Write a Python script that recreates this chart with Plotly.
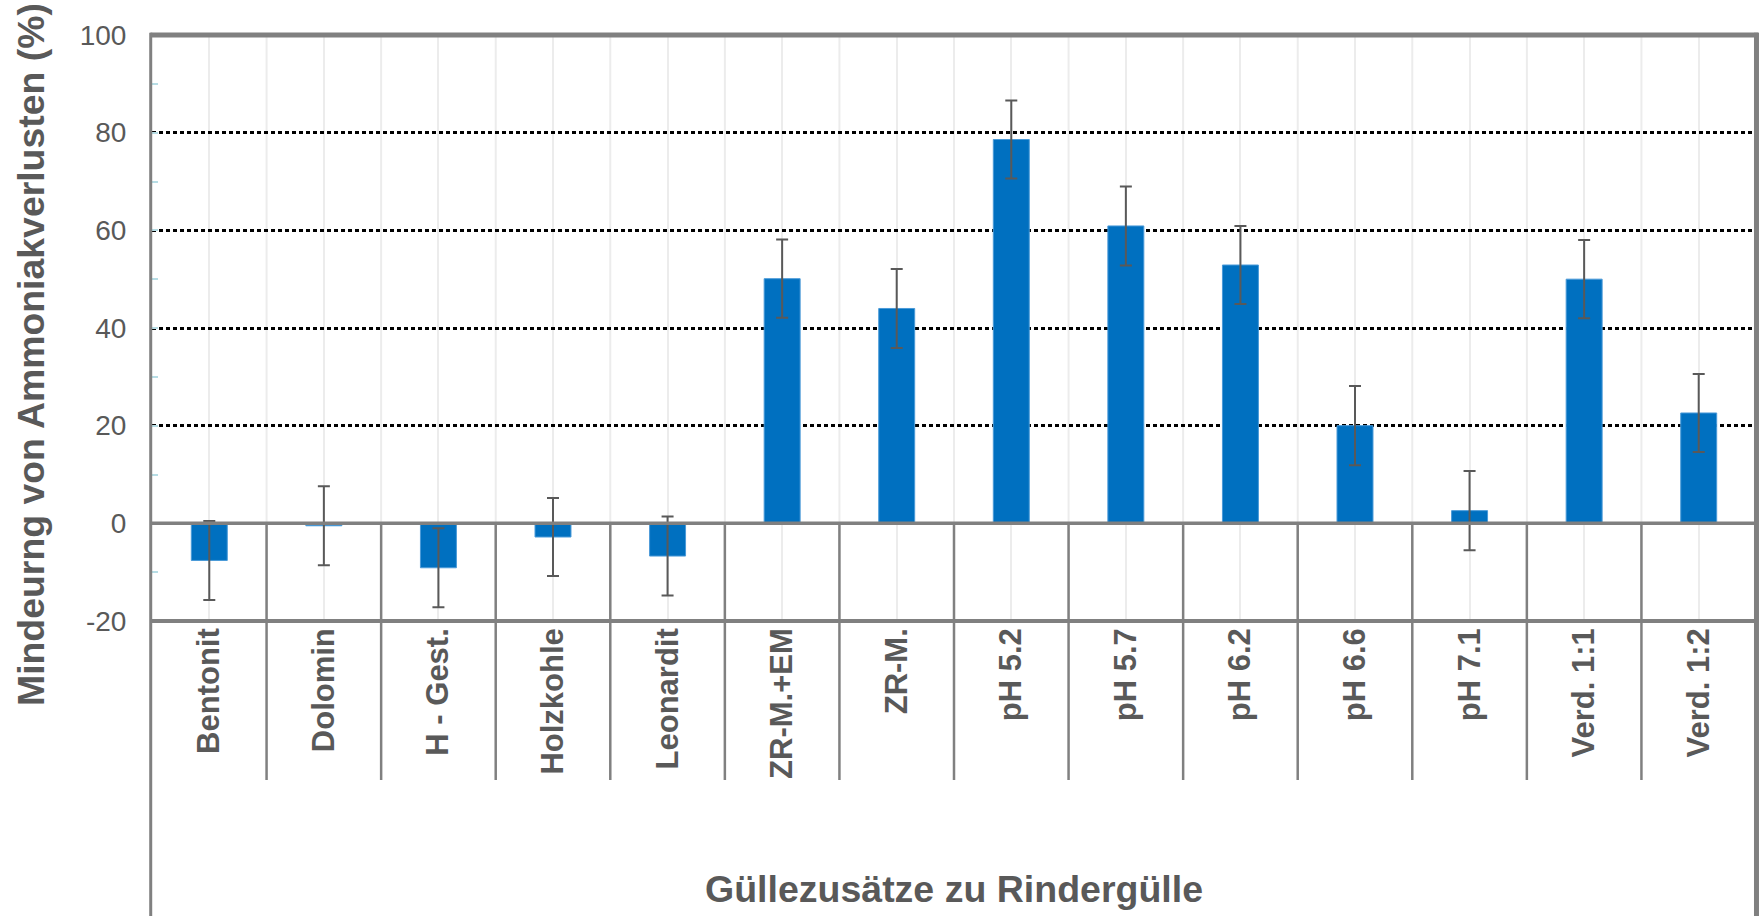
import plotly.graph_objects as go

categories = ["Bentonit", "Dolomin", "H - Gest.", "Holzkohle", "Leonardit",
              "ZR-M.+EM", "ZR-M.", "pH 5.2", "pH 5.7", "pH 6.2", "pH 6.6",
              "pH 7.1", "Verd. 1:1", "Verd. 1:2"]
values = [-7.6, -0.5, -9.1, -2.8, -6.7, 50.1, 44.0, 78.6, 60.9, 52.9, 20.0, 2.6, 50.0, 22.6]
errors = [8.1, 8.1, 8.1, 8.0, 8.1, 8.0, 8.1, 8.0, 8.1, 8.0, 8.1, 8.1, 8.0, 8.0]
y_ticks = [-20, 0, 20, 40, 60, 80, 100]
y_tick_labels = ["-20", "0", "20", "40", "60", "80", "100"]

y_title = "Mindeurng von Ammoniakverlusten (%)"
x_title = "Güllezusätze zu Rindergülle"

W, H = 1760, 916
ML, MR, MT, MB = 152, 4, 35, 295
ymin, ymax = -20, 100
plot_h = H - MT - MB
paper_bottom = -MB / plot_h
zero_paper = (0 - ymin) / (ymax - ymin)
div_bottom = (MT + plot_h - 780) / plot_h  # divider lines end (pixel row 780)

TXT = "#595959"
GRAY = "#808080"
FONT = "Liberation Sans, Arial, sans-serif"

fig = go.Figure(go.Bar(
    x=categories, y=values,
    marker=dict(color="#0070C0", line=dict(color="#4a9ad8", width=1)),
    error_y=dict(type="data", array=errors, visible=True,
                 color=TXT, thickness=2, width=6),
))

shapes = []
n = len(categories)
# faint vertical gridlines at category boundaries
for k in range(1, n):
    shapes.append(dict(type="line", xref="x", yref="paper", x0=k - 0.5, x1=k - 0.5,
                       y0=0, y1=1, line=dict(color="#ececec", width=2), layer="below"))
# dark category dividers from zero line down into label table
for k in range(1, n):
    shapes.append(dict(type="line", xref="x", yref="paper", x0=k - 0.5, x1=k - 0.5,
                       y0=zero_paper, y1=div_bottom, line=dict(color=GRAY, width=2.5), layer="above"))
# zero line
shapes.append(dict(type="line", xref="paper", yref="y", x0=0, x1=1, y0=0, y1=0,
                   line=dict(color=GRAY, width=3.5), layer="above"))
# frame: top, bottom, right, left
shapes.append(dict(type="line", xref="paper", yref="paper", x0=-0.001, x1=1.0015, y0=1, y1=1,
                   line=dict(color=GRAY, width=5), layer="above"))
shapes.append(dict(type="line", xref="paper", yref="paper", x0=-0.001, x1=1.0015, y0=0, y1=0,
                   line=dict(color=GRAY, width=4), layer="above"))
shapes.append(dict(type="line", xref="paper", yref="paper", x0=1.0003, x1=1.0003, y0=1.004, y1=paper_bottom - 0.05,
                   line=dict(color=GRAY, width=5), layer="above"))
shapes.append(dict(type="line", xref="paper", yref="paper", x0=-0.0008, x1=-0.0008, y0=1.004, y1=paper_bottom - 0.05,
                   line=dict(color=GRAY, width=3), layer="above"))

fig.update_layout(
    width=W, height=H,
    margin=dict(l=ML, r=MR, t=MT, b=MB, autoexpand=False),
    paper_bgcolor="white", plot_bgcolor="white",
    bargap=0.686,
    showlegend=False,
    font=dict(family=FONT, color=TXT),
    shapes=shapes,
    xaxis=dict(
        type="category",
        showgrid=True, gridcolor="#ececec", gridwidth=2,
        showline=False, zeroline=False, ticks="",
        tickangle=-90,
        tickfont=dict(family=FONT, size=31, color=TXT, weight="bold"),
        ticklabelstandoff=0,
        automargin=False,
    ),
    yaxis=dict(
        range=[ymin, ymax],
        tickvals=y_ticks, ticktext=y_tick_labels,
        showgrid=True, gridcolor="black", gridwidth=3, griddash="4px,3px",
        zeroline=False,
        showline=True, linecolor="#b7dde5", linewidth=2,
        ticks="inside", ticklen=6, tickcolor="#b7dde5", tickwidth=2,
        minor=dict(dtick=10, ticks="inside", ticklen=6, tickcolor="#b7dde5", tickwidth=2, showgrid=False),
        tickfont=dict(family=FONT, size=28, color=TXT),
        ticklabelstandoff=18,
        automargin=False,
    ),
    annotations=[
        dict(text=x_title, xref="paper", yref="paper", x=0.5, y=(MT + plot_h - 889) / plot_h,
             xanchor="center", yanchor="middle", showarrow=False,
             font=dict(family=FONT, size=37.5, color=TXT, weight="bold")),
        dict(text=y_title, xref="paper", yref="paper", x=(31 - ML) / (W - ML - MR),
             y=(MT + plot_h - 355) / plot_h, textangle=-90,
             xanchor="center", yanchor="middle", showarrow=False,
             font=dict(family=FONT, size=37.4, color=TXT, weight="bold")),
    ],
)

fig.write_html("out.html", config={"displayModeBar": False},
               post_script="document.body.style.margin='0';document.body.style.overflow='hidden';")
